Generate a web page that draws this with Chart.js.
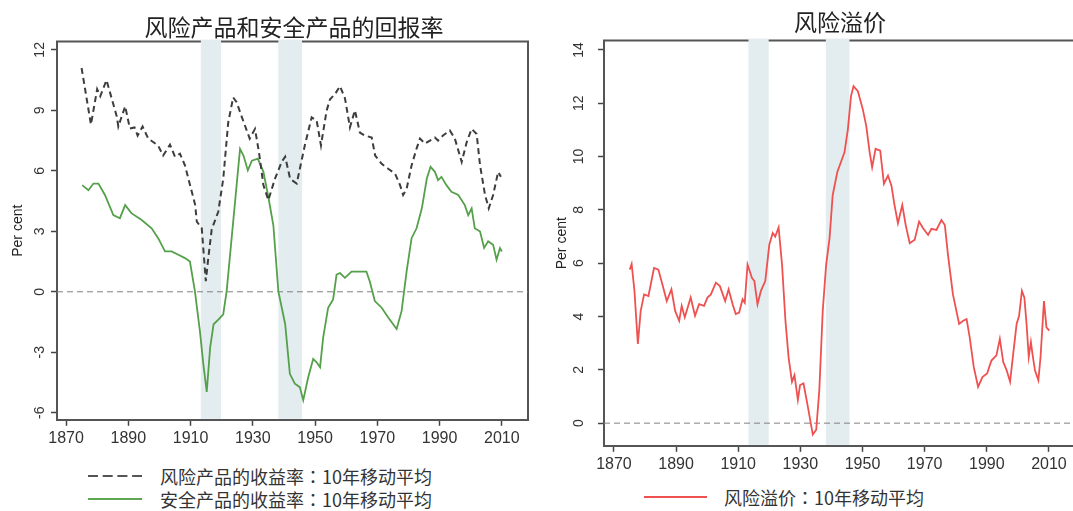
<!DOCTYPE html>
<html>
<head>
<meta charset="utf-8">
<script src="https://cdn.jsdelivr.net/npm/chart.js@4.4.1/dist/chart.umd.min.js"></script>
<style>
  html, body { margin: 0; padding: 0; background: #fff; width: 1073px; height: 511px; overflow: hidden; position: relative; }
  canvas { position: absolute; top: 0; }
  #leftChart { left: 0; }
  #rightChart { left: 540px; }
  .row { position: absolute; display: flex; align-items: center; height: 24px; white-space: nowrap;
         font-family: "Noto Sans CJK SC", sans-serif; font-size: 18px; color: #333; }
  .row svg { display: block; }
  .colon { font-family: "Noto Sans CJK TC", sans-serif; }
</style>
</head>
<body>
<canvas id="leftChart" width="588" height="451"></canvas>
<canvas id="rightChart" width="600" height="477"></canvas>

<div class="row" style="left:88px; top:464px;">
  <svg width="54" height="4" style="margin-right:18px"><line x1="0" y1="2" x2="54" y2="2" stroke="#555" stroke-width="2" stroke-dasharray="10 4.7"/></svg>
  <span>风险产品的收益率<span class="colon">：</span>10年移动平均</span>
</div>
<div class="row" style="left:88px; top:487px;">
  <svg width="54" height="4" style="margin-right:18px"><line x1="0" y1="2" x2="54" y2="2" stroke="#5fa653" stroke-width="2"/></svg>
  <span>安全产品的收益率<span class="colon">：</span>10年移动平均</span>
</div>
<div class="row" style="left:644px; top:485px;">
  <svg width="63" height="4" style="margin-right:17px"><line x1="0" y1="2" x2="63" y2="2" stroke="#ef5050" stroke-width="2"/></svg>
  <span>风险溢价<span class="colon">：</span>10年移动平均</span>
</div>

<script>
// ---- data ----
const xTickYears = [1870, 1890, 1910, 1930, 1950, 1970, 1990, 2010];
const leftYTicks = [-6, -3, 0, 3, 6, 9, 12];
const rightYTicks = [0, 2, 4, 6, 8, 10, 12, 14];
const warBands = [[1913.3, 1919.8], [1938.2, 1945.8]];

// risky asset returns, 10y moving average
const riskyYears = [1875, 1878, 1880, 1881, 1883, 1886.3, 1886.8, 1889, 1890.5, 1892, 1893, 1894.6, 1896.4, 1899.6, 1901.2,
  1903.4, 1905, 1906.6, 1908.2, 1910.4, 1911.5, 1912, 1913.6, 1914.9, 1915.7, 1916.8, 1918.9, 1920.5, 1922.1, 1923.7,
  1924.8, 1926.4, 1929, 1930.7, 1932, 1933.4, 1935, 1937.1, 1939.3, 1940.4, 1942, 1944.1, 1946.7, 1948.9, 1950.5,
  1951.9, 1953.7, 1954.8, 1956.4, 1958, 1959.6, 1961.2, 1962.8, 1964.4, 1966, 1968.2, 1969.3, 1971.4, 1973.5, 1975.7,
  1977.3, 1978.3, 1979.4, 1981, 1982.6, 1983.7, 1985.3, 1986.9, 1988.5, 1989.5, 1991.1, 1993.3, 1994.9, 1997.1, 1998.7,
  2000.3, 2001.9, 2003, 2004.6, 2005.8, 2007.2, 2008.8, 2009.7];
const riskyValues = [11.1, 8.3, 10.05, 9.7, 10.5, 8.7, 8.2, 9.2, 8.1, 8.15, 7.75, 8.2, 7.6, 7.25, 6.76,
  7.3, 6.7, 6.85, 6.27, 4.96, 4.3, 3.48, 3.15, 0.53, 1.67, 3.1, 3.97, 5.6, 8.4, 9.64,
  9.4, 8.7, 7.6, 8.08, 6.9, 5.29, 4.55, 5.6, 6.45, 6.7, 5.6, 5.37, 7.26, 8.65, 8.5,
  7.26, 8.98, 9.55, 9.8, 10.2, 9.6, 8.16, 9.0, 7.9, 7.75, 7.65, 6.76, 6.35, 6.1, 5.86,
  5.29, 4.8, 5.1, 6.27, 7.1, 7.6, 7.35, 7.5, 7.65, 7.5, 7.75, 8.0, 7.6, 6.44, 7.42,
  8.08, 7.83, 6.27, 4.8, 4.14, 4.8, 5.94, 5.7];

// safe asset returns, 10y moving average
const safeYears = [1875.2, 1877.2, 1878.8, 1880.4, 1882.5, 1885.2, 1887.3, 1889, 1891, 1894.3, 1897.5, 1899.6, 1901.8,
  1903.9, 1906.1, 1908.2, 1909.8, 1911.4, 1913, 1914.1, 1915.2, 1916.3, 1917.4, 1919, 1920.5, 1921.6, 1923.2, 1924.8,
  1925.9, 1927, 1928.4, 1929.7, 1931.6, 1933.4, 1935, 1936.6, 1938.2, 1940.4, 1941.9, 1943.5, 1945.1, 1946.2, 1947.8,
  1949.4, 1950.5, 1951.6, 1952.6, 1954.2, 1955.8, 1956.9, 1958, 1959.6, 1961.7, 1963.9, 1966.5, 1967.6, 1969.2, 1971.4,
  1973.5, 1976.2, 1977.8, 1979.4, 1981, 1982.6, 1984.3, 1985.9, 1987.1, 1988.5, 1989.5, 1990.6, 1992.2, 1993.8, 1996,
  1998.1, 1999.2, 2000.3, 2001.3, 2003, 2004.3, 2005.6, 2007.2, 2008.3, 2009.4, 2010];
const safeValues = [5.29, 5.04, 5.37, 5.37, 4.8, 3.8, 3.65, 4.3, 3.9, 3.56, 3.15, 2.66, 2.0,
  2.0, 1.84, 1.67, 1.5, 0.03, -1.94, -3.58, -4.97, -2.76, -1.61, -1.37, -1.12, 0.03, 2.66, 5.29,
  7.09, 6.76, 6.02, 6.5, 6.6, 5.95, 4.7, 3.3, 0.03, -1.61, -4.07, -4.56, -4.73, -5.38, -4.24,
  -3.33, -3.5, -3.74, -2.27, -0.79, -0.38, 0.85, 0.93, 0.69, 1.0, 1.0, 1.0, 0.5, -0.46, -0.79,
  -1.28, -1.85, -0.95, 1.0, 2.66, 3.15, 4.14, 5.62, 6.2, 5.95, 5.54, 5.7, 5.29, 4.96, 4.8,
  4.3, 3.8, 4.14, 3.15, 2.99, 2.17, 2.5, 2.33, 1.59, 2.17, 2.0];

// risk premium, 10y moving average
const premYears = [1875.1, 1875.7, 1876.6, 1877.7, 1878.6, 1879.7, 1881.1, 1882.9, 1884.3, 1885.6, 1887, 1888.5, 1889.7,
  1891, 1891.8, 1892.8, 1894.7, 1896.1, 1897.4, 1899, 1900.1, 1901.2, 1902.8, 1904.1, 1905.8, 1906.9, 1908.2, 1909.2,
  1910.3, 1911.4, 1912.1, 1913, 1914.4, 1915.2, 1916.2, 1917.3, 1918.7, 1920, 1921.1, 1921.9, 1923, 1924.1, 1925.2,
  1926.2, 1927.3, 1928.1, 1929.2, 1929.9, 1931, 1932.4, 1934, 1935.1, 1936.1, 1937.2, 1938.3, 1939.4, 1940.4, 1941.9,
  1944.2, 1945.3, 1946.3, 1947.1, 1948.5, 1950.1, 1951.2, 1952.3, 1953.1, 1954.2, 1955.7, 1956.9, 1958.2, 1959.3,
  1960.3, 1961.4, 1962.8, 1963.9, 1965.2, 1966.8, 1968.2, 1969.5, 1971.1, 1972.2, 1973.8, 1975.4, 1976.5, 1977.5,
  1979.1, 1981.1, 1982.4, 1983.5, 1984.5, 1985.8, 1987.2, 1988.6, 1990.1, 1991.5, 1993.1, 1994.2, 1995.3, 1996.4,
  1997.5, 1998.5, 1999.6, 2000.4, 2001.3, 2002.1, 2002.8, 2003.5, 2004.2, 2004.7, 2005.5, 2006.6, 2007.3, 2008.4,
  2009.2, 2010.1];
const premValues = [5.76, 5.97, 4.96, 2.97, 4.2, 4.83, 4.77, 5.82, 5.76, 5.2, 4.58, 5.02, 4.21,
  3.84, 4.4, 3.97, 4.71, 4.03, 4.46, 4.4, 4.71, 4.83, 5.27, 5.14, 4.58, 5.02, 4.46, 4.09,
  4.15, 4.65, 4.52, 5.95, 5.45, 5.33, 4.46, 4.96, 5.33, 6.69, 7.13, 7.0, 7.34, 5.95, 3.84,
  2.48, 1.55, 1.8, 0.87, 1.43, 1.49, 0.62, -0.43, -0.25, 1.24, 4.21, 5.95, 6.94, 8.55, 9.42,
  10.16, 11.03, 12.27, 12.64, 12.45, 11.77, 11.15, 10.16, 9.6, 10.29, 10.22, 8.98, 9.29, 8.92,
  8.18, 7.5, 8.18, 7.43, 6.75, 6.88, 7.56, 7.31, 7.06, 7.29, 7.25, 7.62, 7.43, 6.32,
  4.83, 3.72, 3.84, 3.9, 3.22, 2.11, 1.36, 1.73, 1.86, 2.35, 2.54, 3.16, 2.29, 1.98,
  1.55, 2.6, 3.72, 4.03, 4.96, 4.71, 3.72, 2.48, 3.04, 2.6, 1.98, 1.61, 2.48, 4.58,
  3.59, 3.47];

const NUM_FONT = '"Liberation Sans", Arial, sans-serif';
const CJK_FONT = '"Noto Sans CJK SC", sans-serif';

const pts = (xs, ys) => xs.map((x, i) => ({ x, y: ys[i] }));

// frame (top/right) and shaded war periods, drawn through the x scale
const frameAndBands = {
  id: 'frameAndBands',
  beforeDatasetsDraw(chart) {
    const { ctx, chartArea: a, scales: { x } } = chart;
    ctx.save();
    ctx.strokeStyle = '#555';
    ctx.lineWidth = 2;
    ctx.beginPath();
    ctx.moveTo(a.left - 1, a.top);
    ctx.lineTo(a.right, a.top);
    ctx.lineTo(a.right, a.bottom + 1);
    ctx.stroke();
    ctx.fillStyle = '#e3ecef';
    warBands.forEach(([s, e]) => {
      const x0 = x.getPixelForValue(s), x1 = x.getPixelForValue(e);
      ctx.fillRect(x0, a.top - 2, x1 - x0, a.bottom - a.top + 1);
    });
    ctx.restore();
  }
};

function zeroLine(xMin, xMax) {
  return {
    data: [{ x: xMin, y: 0 }, { x: xMax, y: 0 }],
    borderColor: '#808080', borderWidth: 1, borderDash: [6, 4], pointRadius: 0
  };
}

function makeChart(id, c) {
  return new Chart(document.getElementById(id), {
    type: 'line',
    data: { datasets: c.datasets },
    plugins: [frameAndBands],
    options: {
      responsive: false,
      animation: false,
      events: [],
      layout: { padding: 0 },
      elements: { point: { radius: 0 }, line: { tension: 0 } },
      plugins: {
        legend: { display: false },
        tooltip: { enabled: false },
        title: {
          display: true, text: c.title, color: '#222',
          font: { family: CJK_FONT, size: 23, weight: 'normal' },
          padding: c.titlePad
        }
      },
      scales: {
        x: {
          type: 'linear', min: c.xMin, max: c.xMax,
          afterBuildTicks: s => { s.ticks = xTickYears.map(v => ({ value: v })); },
          ticks: { color: '#333', font: { family: NUM_FONT, size: 16 }, padding: 3, maxRotation: 0, callback: v => String(v) },
          grid: { display: true, drawOnChartArea: false, drawTicks: true, tickLength: 6, tickColor: '#444', tickWidth: 1.5 },
          border: { display: true, color: '#555', width: 2 }
        },
        y: {
          min: c.yMin, max: c.yMax,
          afterBuildTicks: s => { s.ticks = c.yTicks.map(v => ({ value: v })); },
          afterFit: s => { s.width = c.yWidth; },
          ticks: { color: '#333', font: { family: NUM_FONT, size: 14 }, padding: c.yTickPad,
                   minRotation: 90, maxRotation: 90, crossAlign: 'center', callback: v => String(v) },
          grid: { display: true, drawOnChartArea: false, drawTicks: true, tickLength: 6, tickColor: '#444', tickWidth: 1.5 },
          border: { display: true, color: '#555', width: 2 },
          title: { display: true, text: 'Per cent', color: '#222', font: { family: NUM_FONT, size: 14 }, padding: c.yTitlePad }
        },
        // empty right-hand strip so the title stays centred on the whole panel
        pad: {
          position: 'right', display: true,
          afterFit: s => { s.width = c.rightGap; },
          ticks: { display: false }, grid: { display: false }, border: { display: false }
        }
      }
    }
  });
}

makeChart('leftChart', {
  title: '风险产品和安全产品的回报率',
  titlePad: { top: 13, bottom: 1 },
  yWidth: 57, rightGap: 60,
  xMin: 1867.1, xMax: 2018.4, yMin: -6.35, yMax: 12.41,
  yTicks: leftYTicks, yTickPad: 3, yTitlePad: { top: 10, bottom: 4 },
  datasets: [
    { data: pts(riskyYears, riskyValues), borderColor: '#3d3d3d', borderWidth: 2, borderDash: [6, 4] },
    { data: pts(safeYears, safeValues), borderColor: '#55a04a', borderWidth: 1.8 },
    zeroLine(1867.1, 2018.4)
  ]
});

makeChart('rightChart', {
  title: '风险溢价',
  titlePad: { top: 8, bottom: 5 },
  yWidth: 64, rightGap: 60,
  xMin: 1866.8, xMax: 2020, yMin: -0.85, yMax: 14.35,
  yTicks: rightYTicks, yTickPad: 11, yTitlePad: { top: 14, bottom: 0 },
  datasets: [
    { data: pts(premYears, premValues), borderColor: '#ef5050', borderWidth: 1.8 },
    zeroLine(1866.8, 2020)
  ]
});
</script>
</body>
</html>
